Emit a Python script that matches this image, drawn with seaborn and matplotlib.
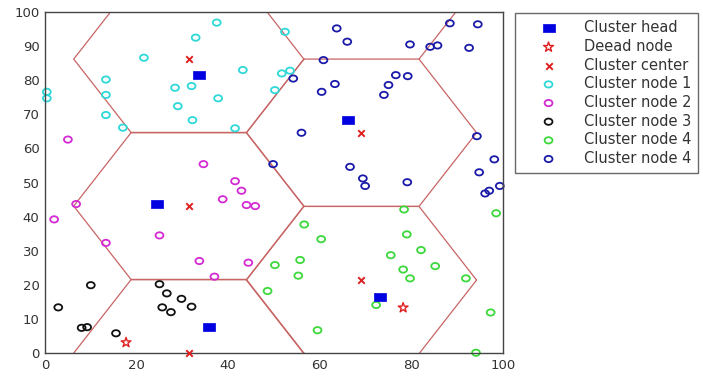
import numpy as np
import matplotlib
matplotlib.use("Agg")
import matplotlib.pyplot as plt
from matplotlib.path import Path
import seaborn as sns

# node positions
cyan_x = [37.5, 32.9, 21.6, 43.2, 13.3, 28.4, 32.0, 13.3, 37.8, 0.4, 0.4, 29.0, 13.3, 32.2, 17.0, 41.5, 52.4, 51.7, 53.5, 50.2]
cyan_y = [96.9, 92.5, 86.6, 83.0, 80.2, 77.8, 78.3, 75.7, 74.7, 76.6, 74.7, 72.4, 69.8, 68.3, 66.1, 65.9, 94.2, 82.0, 82.8, 77.1]

magenta_x = [5.0, 34.6, 41.5, 42.9, 6.8, 2.0, 38.8, 44.0, 45.9, 13.3, 25.0, 33.7, 37.0, 44.4]
magenta_y = [62.6, 55.4, 50.4, 47.6, 43.7, 39.2, 45.1, 43.4, 43.1, 32.3, 34.5, 27.0, 22.4, 26.5]

black_x = [10.0, 2.9, 8.0, 9.2, 15.5, 25.0, 26.6, 29.8, 32.0, 25.6, 27.5]
black_y = [19.9, 13.4, 7.4, 7.6, 5.8, 20.2, 17.5, 15.9, 13.6, 13.4, 12.0]

green_x = [78.4, 98.5, 56.6, 60.3, 79.0, 82.1, 75.5, 50.2, 55.7, 55.3, 85.2, 78.2, 79.7, 91.9, 48.6, 72.3, 97.3, 59.5, 94.1]
green_y = [42.1, 41.0, 37.7, 33.4, 34.8, 30.2, 28.7, 25.8, 27.3, 22.7, 25.5, 24.5, 21.9, 21.9, 18.2, 14.1, 11.9, 6.7, 0.1]

blue_x = [63.7, 66.0, 60.8, 79.7, 84.1, 85.7, 88.4, 94.5, 92.6, 54.2, 63.3, 60.4, 76.6, 79.2, 75.0, 74.0,
          56.0, 94.3, 49.8, 66.6, 69.4, 69.9, 79.1, 98.1, 94.8, 96.1, 97.0, 99.3]
blue_y = [95.2, 91.3, 85.9, 90.5, 89.8, 90.2, 96.7, 96.4, 89.5, 80.5, 78.9, 76.6, 81.5, 81.2, 78.6, 75.7,
          64.6, 63.6, 55.4, 54.6, 51.2, 49.0, 50.1, 56.8, 53.0, 46.8, 47.6, 49.0]

head_x = [33.7, 66.2, 24.5, 35.8, 73.1]
head_y = [81.5, 68.3, 43.7, 7.7, 16.3]

dead_x = [17.7, 78.2]
dead_y = [3.1, 13.3]

center_x = [31.4, 69.1, 31.4, 69.1, 31.4]
center_y = [86.2, 64.6, 43.1, 21.4, 0.0]

# hexagon half width / half height around each cluster center
hex_w = 25.13
hex_h = 21.6

sns.set_style("white")
plt.rcParams["font.family"] = ["DejaVu Sans"]

fig = plt.figure(figsize=(7.03, 3.76), dpi=100)
ax = fig.add_axes([0.064, 0.061, 0.6515, 0.907])

# cell borders
line_col = "#c86464"
for cx, cy in zip(center_x, center_y):
    vx = [cx + hex_w, cx + hex_w / 2, cx - hex_w / 2, cx - hex_w, cx - hex_w / 2, cx + hex_w / 2, cx + hex_w]
    vy = [cy, cy + hex_h, cy + hex_h, cy, cy - hex_h, cy - hex_h, cy]
    ax.plot(vx, vy, color=line_col, lw=0.9, zorder=1)
# open edge leaving the upper-right cell corner
ax.plot([center_x[1] + hex_w / 2, center_x[1] + hex_w], [center_y[1] + hex_h, center_y[1] + 2 * hex_h],
        color=line_col, lw=0.9, zorder=1)

# picture is stretched sideways, so markers are slightly wide
ring = Path.unit_circle().transformed(matplotlib.transforms.Affine2D().scale(1.25, 1.0))
box = Path([(-1.3, -1), (1.3, -1), (1.3, 1), (-1.3, 1), (-1.3, -1)],
           [Path.MOVETO, Path.LINETO, Path.LINETO, Path.LINETO, Path.CLOSEPOLY])

sns.scatterplot(x=head_x, y=head_y, ax=ax, marker=box, s=70, color="#0000e0",
                edgecolor="#0000e0", linewidth=0.5, label="Cluster head", zorder=3, clip_on=False)
sns.scatterplot(x=dead_x, y=dead_y, ax=ax, marker="*", s=55, color="#e02020",
                facecolor="none", edgecolor="#e02020", linewidth=1.0, label="Deead node", zorder=3, clip_on=False)
sns.scatterplot(x=center_x, y=center_y, ax=ax, marker="x", s=22, color="#e02020",
                linewidth=1.4, label="Cluster center", zorder=3, clip_on=False)

groups = [
    (cyan_x, cyan_y, "#2ed8d8", "Cluster node 1"),
    (magenta_x, magenta_y, "#d42ad4", "Cluster node 2"),
    (black_x, black_y, "#111111", "Cluster node 3"),
    (green_x, green_y, "#3cd83c", "Cluster node 4"),
    (blue_x, blue_y, "#1a1aa8", "Cluster node 4"),
]
for gx, gy, col, name in groups:
    sns.scatterplot(x=gx, y=gy, ax=ax, marker=ring, s=32, color=col,
                    facecolor="none", edgecolor=col, linewidth=1.3, label=name, zorder=2, clip_on=False)

ax.set_xlim(0, 100)
ax.set_ylim(0, 100)
ax.set_xticks(np.arange(0, 101, 20))
ax.set_yticks(np.arange(0, 101, 10))
ax.tick_params(direction="in", length=3, labelsize=9.5, colors="#333333", pad=4)
for sp in ax.spines.values():
    sp.set_visible(True)
    sp.set_color("#444444")
    sp.set_linewidth(1.0)

leg = ax.legend(loc="upper left", bbox_to_anchor=(515 / 703, 1 - 13 / 376),
                bbox_transform=fig.transFigure, fontsize=10.5, frameon=True, fancybox=False,
                borderpad=0.5, labelspacing=0.25, handlelength=3.6, handletextpad=0.6,
                borderaxespad=0)
leg.get_frame().set_edgecolor("#444444")
leg.get_frame().set_linewidth(1.0)
for t in leg.get_texts():
    t.set_color("#333333")

fig.savefig("out.png", dpi=100)
